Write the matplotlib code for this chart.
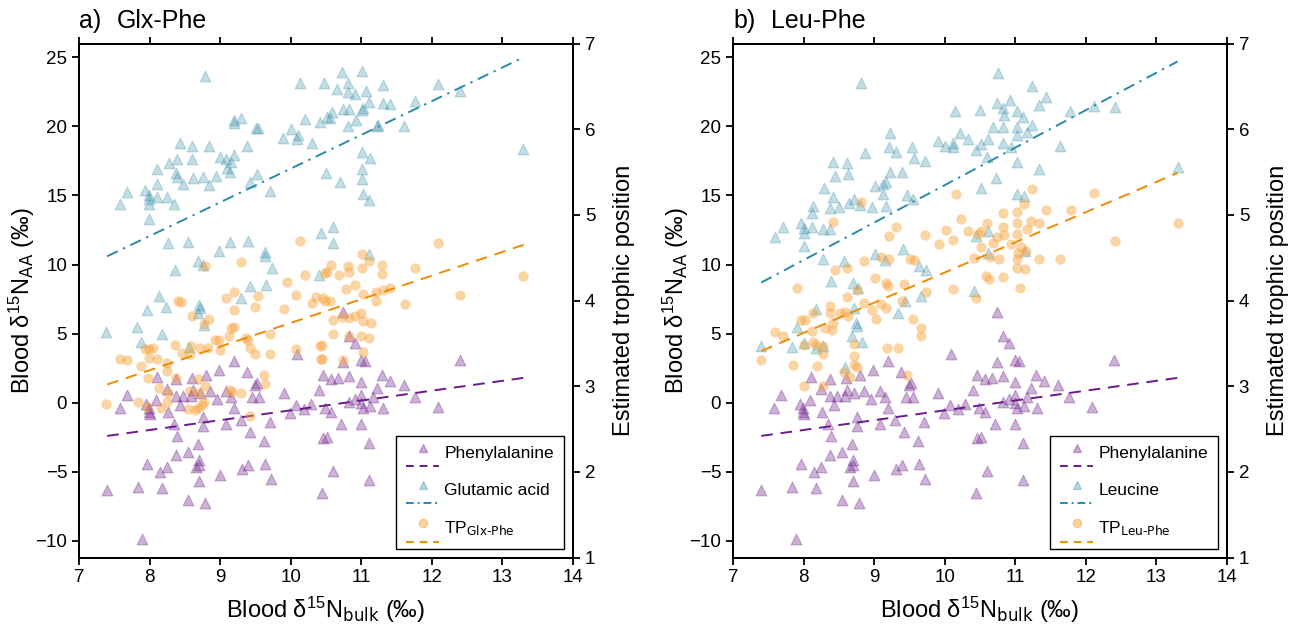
import numpy as np
import matplotlib
matplotlib.use("Agg")
import matplotlib.pyplot as plt
from matplotlib.legend_handler import HandlerBase
from matplotlib.lines import Line2D

plt.rcParams['font.family'] = ['Liberation Sans', 'DejaVu Sans']
plt.rcParams['mathtext.default'] = 'regular'
plt.rcParams['axes.linewidth'] = 1.4

# ---------------- data ----------------
phe_x = [9.20, 8.99, 9.38, 10.09, 8.11, 8.38, 8.60, 8.80, 7.68, 7.58,
         8.25, 7.95, 8.09, 7.99, 8.26, 8.37, 8.48, 8.61, 8.71, 8.86,
         8.43, 8.59, 8.95, 9.09, 9.16, 9.50, 9.52, 9.45, 9.55, 9.90,
         9.20, 8.76, 8.35, 8.75, 9.09, 9.30, 9.70, 9.43, 8.39, 9.62,
         8.69, 8.55, 8.37, 8.70, 8.70, 8.66, 7.97, 8.24, 8.15, 9.00,
         9.31, 9.40, 9.64, 9.72, 8.70, 7.39, 7.83, 8.17, 8.55, 8.79,
         7.89, 10.08, 9.99, 10.19, 10.29, 10.40, 7.99, 10.74, 10.82, 10.91,
         10.74, 11.00, 11.05, 12.40, 10.46, 10.57, 10.67, 10.82, 11.00, 11.30,
         11.41, 11.61, 11.22, 11.00, 11.17, 11.76, 10.91, 10.82, 11.00, 11.12,
         11.31, 11.03, 12.09, 10.57, 10.49, 10.71, 11.00, 10.46, 10.52, 11.11,
         10.60, 11.11, 10.44, 8.00]
phe_y = [3.03, 2.38, 2.23, 3.53, 1.89, 1.73, 1.82, 1.99, 0.54, -0.40,
         0.97, -0.08, 0.21, -0.64, -0.64, 0.50, 0.50, 0.93, 0.69, 0.86,
         -0.16, 0.50, 0.28, 0.86, 0.45, 1.29, 1.46, 0.45, 0.45, 0.69,
         -0.40, -1.00, -1.53, -1.65, -1.55, -1.24, -1.36, -2.13, -2.40, -2.76,
         -2.98, -3.53, -3.77, -4.13, -4.54, -4.66, -4.45, -4.66, -5.03, -5.22,
         -4.81, -4.50, -4.45, -5.53, -5.65, -6.35, -6.11, -6.18, -7.03, -7.22,
         -9.85, -0.16, -0.71, -0.47, -0.11, 0.93, -0.40, 6.55, 4.84, 4.36,
         2.98, 3.10, 3.05, 3.10, 2.02, 1.73, 1.78, 1.90, 1.49, 2.02,
         1.61, 1.25, 1.05, 0.57, 0.45, 0.38, 0.28, 0.09, -0.03, -0.23,
         -0.40, -0.40, -0.28, -0.64, -0.40, -1.53, -1.53, -2.57, -2.45, -2.93,
         -4.93, -5.58, -6.50, -0.85]

glu_x = [8.79, 10.13, 10.47, 9.20, 9.30, 9.19, 9.51, 9.54, 10.20, 10.41,
         10.51, 10.00, 9.89, 10.10, 10.09, 10.30, 8.43, 8.60, 8.84, 9.38,
         8.11, 8.27, 8.39, 8.60, 9.00, 9.09, 9.20, 9.16, 9.10, 9.14,
         8.37, 8.39, 8.10, 8.47, 8.62, 8.76, 8.94, 8.84, 9.52, 9.43,
         9.70, 7.68, 7.93, 7.99, 7.99, 7.99, 8.10, 8.25, 8.35, 7.58,
         7.99, 8.26, 8.55, 8.99, 9.14, 9.40, 10.43, 9.63, 9.63, 8.69,
         8.76, 8.36, 9.73, 10.40, 9.43, 9.65, 8.14, 9.30, 7.97, 8.23,
         8.70, 8.72, 8.69, 8.77, 7.38, 7.82, 8.17, 7.88, 8.56, 10.72,
         11.01, 10.66, 10.81, 10.81, 10.91, 11.07, 11.31, 12.09, 12.40, 11.11,
         11.31, 11.41, 11.76, 10.74, 10.82, 11.01, 11.02, 10.58, 10.56, 10.93,
         10.81, 11.22, 11.23, 11.61, 13.29, 11.01, 11.13, 10.50, 10.70, 11.01,
         11.01, 11.03, 11.11, 10.60, 10.60, 11.11]
glu_y = [23.65, 23.11, 23.11, 20.46, 20.63, 20.22, 19.86, 19.86, 20.51, 20.29,
         20.70, 19.79, 19.13, 19.38, 19.09, 18.77, 18.77, 18.58, 18.60, 18.58,
         16.89, 17.33, 17.62, 17.64, 17.76, 17.62, 17.93, 17.45, 17.01, 16.67,
         16.60, 16.36, 15.83, 15.83, 16.29, 16.36, 16.41, 15.76, 16.55, 15.99,
         15.35, 15.28, 15.40, 15.03, 14.72, 14.36, 14.91, 14.91, 14.38, 14.38,
         13.27, 11.54, 11.66, 11.01, 11.66, 11.73, 12.26, 10.93, 10.62, 10.28,
         9.97, 9.61, 9.73, 9.25, 8.45, 8.52, 7.73, 7.56, 6.72, 6.96,
         7.08, 6.85, 6.48, 5.63, 5.15, 5.51, 4.98, 4.43, 4.07, 23.96,
         24.00, 22.68, 23.11, 22.51, 22.32, 22.58, 22.99, 23.07, 22.58, 21.74,
         21.67, 21.60, 21.84, 21.23, 21.23, 21.19, 21.31, 21.06, 20.58, 20.46,
         20.03, 20.03, 20.10, 20.03, 18.34, 18.12, 17.69, 16.65, 16.00, 16.92,
         16.17, 15.11, 14.67, 12.74, 11.58, 10.74]

tp_glx_x = [10.13, 9.29, 8.78, 10.20, 10.48, 9.95, 9.20, 9.08, 10.07, 10.36,
            8.40, 9.54, 10.49, 10.30, 9.50, 9.20, 9.90, 8.44, 8.60, 8.84,
            8.77, 9.16, 9.20, 9.70, 9.13, 9.36, 9.40, 9.42, 9.50, 9.71,
            8.93, 8.98, 9.00, 8.83, 8.59, 8.71, 8.46, 8.57, 8.36, 7.93,
            7.99, 8.05, 7.99, 8.10, 7.58, 7.68, 7.88, 8.25, 8.24, 7.98,
            8.37, 8.14, 8.26, 8.79, 8.69, 8.57, 8.70, 9.14, 9.17, 9.30,
            9.62, 9.64, 7.83, 7.38, 8.25, 8.16, 8.77, 8.74, 8.55, 8.64,
            8.69, 7.96, 9.42, 10.08, 10.41, 10.43, 10.91, 10.79, 11.03, 11.21,
            11.31, 11.41, 11.21, 11.62, 12.40, 10.46, 10.56, 10.60, 10.72, 10.82,
            10.91, 11.00, 11.03, 11.14, 10.60, 10.82, 11.00, 11.11, 11.03, 10.44,
            10.44, 10.74, 12.09, 11.01, 11.11, 11.30, 11.30, 11.76, 10.57, 10.81,
            11.01, 10.51, 10.68, 10.82, 13.29]
tp_glx = [4.70, 4.45, 4.40, 4.30, 4.32, 4.22, 4.10, 4.03, 4.06, 4.04,
          3.99, 4.05, 3.99, 3.97, 3.92, 3.89, 3.90, 3.98, 3.82, 3.78,
          3.73, 3.68, 3.69, 3.61, 3.58, 3.56, 3.54, 3.45, 3.37, 3.38,
          3.54, 3.54, 3.42, 3.44, 3.47, 3.44, 3.39, 3.38, 3.48, 3.43,
          3.43, 3.44, 3.33, 3.32, 3.32, 3.30, 3.24, 3.18, 3.27, 3.10,
          3.10, 2.98, 2.92, 3.00, 3.08, 2.94, 2.92, 2.96, 2.93, 2.92,
          3.13, 3.03, 2.82, 2.79, 2.82, 2.74, 2.81, 2.78, 2.73, 2.72,
          2.75, 2.76, 2.65, 3.43, 3.47, 3.32, 4.18, 4.14, 4.08, 4.10,
          4.12, 4.15, 3.99, 3.96, 4.06, 4.03, 3.99, 3.77, 3.81, 3.80,
          3.82, 3.85, 3.76, 3.74, 3.61, 3.58, 3.58, 3.56, 3.40, 3.48,
          3.32, 3.31, 4.67, 4.54, 4.46, 4.42, 4.31, 4.38, 4.41, 4.40,
          4.38, 4.33, 4.30, 4.33, 4.29]

leu_x = [8.82, 10.15, 9.22, 9.21, 9.31, 9.53, 9.57, 9.72, 9.91, 10.01,
         10.12, 10.12, 10.21, 10.33, 8.87, 8.42, 8.62, 8.45, 8.63, 9.22,
         9.40, 8.29, 9.01, 9.12, 9.17, 9.12, 8.42, 8.71, 8.64, 8.37,
         8.50, 8.80, 8.97, 9.17, 9.46, 9.55, 8.13, 8.12, 7.71, 7.96,
         8.01, 8.01, 8.12, 8.27, 8.38, 7.60, 8.01, 8.28, 8.57, 9.01,
         9.16, 9.41, 9.64, 9.74, 8.39, 8.70, 8.77, 10.42, 9.66, 9.44,
         8.17, 8.72, 9.34, 7.91, 8.74, 8.76, 8.68, 8.83, 7.40, 7.84,
         8.00, 8.18, 8.27, 8.58, 10.76, 11.23, 11.43, 10.93, 10.74, 10.50,
         10.83, 10.84, 11.03, 11.11, 11.34, 11.78, 12.11, 12.41, 10.69, 10.83,
         11.02, 11.23, 11.16, 11.03, 10.61, 10.52, 10.83, 10.94, 10.45, 11.63,
         10.60, 11.02, 11.33, 13.30, 10.73, 10.52, 11.02, 11.13, 10.62, 10.45,
         10.62, 11.14]
leu_y = [23.16, 21.14, 19.54, 18.53, 18.17, 18.48, 17.69, 17.52, 18.97, 18.58,
         18.77, 18.48, 19.50, 19.06, 18.05, 17.40, 17.33, 16.41, 16.55, 16.72,
         16.67, 15.52, 15.69, 15.83, 16.00, 15.11, 14.87, 14.72, 14.43, 14.07,
         14.14, 14.31, 14.14, 14.26, 15.03, 14.72, 14.24, 13.76, 12.74, 13.03,
         12.62, 12.26, 12.70, 12.55, 12.55, 11.97, 11.37, 10.38, 10.28, 10.74,
         10.33, 11.10, 9.90, 9.61, 8.84, 8.64, 8.28, 8.11, 7.73, 7.39,
         6.77, 6.84, 6.48, 5.51, 5.75, 5.52, 4.84, 4.38, 4.11, 4.07,
         4.31, 3.95, 4.14, 2.62, 23.89, 22.92, 22.15, 21.91, 21.67, 21.19,
         21.31, 20.82, 21.14, 20.65, 21.55, 21.10, 21.50, 21.43, 19.93, 19.93,
         19.93, 20.10, 19.57, 19.38, 19.06, 18.73, 18.82, 18.48, 18.29, 18.58,
         17.76, 17.45, 16.89, 17.04, 16.29, 15.57, 15.11, 14.96, 12.43, 12.07,
         10.86, 11.00]

tp_leu_x = [8.82, 8.42, 10.16, 10.23, 9.31, 9.21, 9.72, 10.02, 9.92, 10.12,
            10.33, 10.42, 8.86, 9.10, 9.21, 9.51, 9.57, 8.61, 8.45, 7.91,
            9.01, 9.17, 9.20, 9.42, 9.74, 10.12, 10.44, 8.62, 8.76, 8.85,
            9.39, 9.10, 9.17, 8.97, 9.02, 8.37, 8.38, 8.51, 8.63, 8.58,
            8.13, 8.42, 8.30, 8.40, 9.55, 9.67, 9.67, 7.97, 8.02, 7.60,
            7.71, 8.12, 8.13, 8.18, 8.28, 8.28, 8.00, 8.72, 8.72, 8.71,
            8.76, 9.18, 9.34, 7.40, 7.85, 8.19, 8.57, 8.66, 9.46, 8.00,
            8.27, 11.23, 12.12, 11.13, 10.83, 11.03, 11.43, 11.79, 10.60, 10.83,
            11.03, 11.22, 11.33, 11.16, 10.51, 10.47, 10.74, 10.84, 11.03, 10.69,
            10.52, 10.94, 11.08, 11.15, 11.04, 10.64, 10.77, 11.03, 11.34, 11.63,
            11.03, 11.14, 10.59, 10.63, 10.83, 11.07, 12.41, 13.30]
tp_leu = [5.15, 4.92, 5.24, 4.95, 4.86, 4.75, 4.76, 4.82, 4.66, 4.71,
          4.81, 4.50, 4.46, 4.51, 4.48, 4.48, 4.47, 4.38, 4.36, 4.15,
          4.26, 4.20, 4.17, 4.19, 4.10, 4.13, 4.03, 4.04, 4.12, 3.97,
          3.99, 3.96, 3.91, 3.89, 3.78, 3.93, 3.85, 3.85, 3.82, 3.86,
          3.85, 3.74, 3.68, 3.66, 3.78, 3.68, 3.59, 3.77, 3.77, 3.63,
          3.59, 3.64, 3.52, 3.48, 3.47, 3.38, 3.48, 3.49, 3.35, 3.25,
          3.22, 3.44, 3.45, 3.30, 3.25, 3.24, 3.16, 3.11, 3.13, 3.00,
          3.00, 5.30, 5.25, 5.13, 5.02, 5.03, 5.06, 5.06, 4.91, 4.86,
          4.91, 4.93, 4.90, 4.83, 4.81, 4.78, 4.74, 4.76, 4.78, 4.67,
          4.62, 4.66, 4.62, 4.58, 4.56, 4.51, 4.49, 4.49, 4.49, 4.49,
          4.38, 4.37, 4.29, 4.25, 4.27, 4.15, 4.69, 4.90]

# regression lines (end points)
fit_x = [7.4, 13.3]
phe_fit = [-2.4, 1.8]
glu_fit = [10.6, 25.0]
tp_glx_fit = [3.02, 4.65]
leu_fit = [8.7, 24.7]
tp_leu_fit = [3.41, 5.49]

# ---------------- style ----------------
PURPLE = '#7b3294'
PURPLE_LINE = '#6a1b8a'
TEAL = '#3a8fa8'
TEAL_LINE = '#2a8aa5'
ORANGE = '#f7a035'
ORANGE_LINE = '#f08a00'


class MarkerOverLine(HandlerBase):
    def __init__(self, marker, mcolor, malpha, msize, lcolor, ls):
        super().__init__()
        self.marker, self.mcolor, self.malpha = marker, mcolor, malpha
        self.msize, self.lcolor, self.ls = msize, lcolor, ls

    def create_artists(self, legend, orig_handle, xdescent, ydescent,
                       width, height, fontsize, trans):
        yc = (height - ydescent) / 2
        m = Line2D([width / 2 - xdescent], [yc + 0.25 * fontsize],
                   marker=self.marker, linestyle='none',
                   markerfacecolor=self.mcolor, markeredgecolor=self.mcolor,
                   alpha=self.malpha, markersize=self.msize)
        l = Line2D([-xdescent, width - xdescent], [yc - 0.8 * fontsize] * 2,
                   color=self.lcolor, linestyle=self.ls, linewidth=1.4)
        m.set_transform(trans)
        l.set_transform(trans)
        return [m, l]


fig = plt.figure(figsize=(13.02, 6.31), dpi=100)
W, H = 1302, 631
axes_px = [(79, 494), (733, 494)]
top_px, bot_px = 43.5, 557.5

panels = [
    ('a)', 'Glx-Phe', glu_x, glu_y, glu_fit, 'Glutamic acid',
     tp_glx_x, tp_glx, tp_glx_fit, r'TP$_{\text{Glx-Phe}}$'),
    ('b)', 'Leu-Phe', leu_x, leu_y, leu_fit, 'Leucine',
     tp_leu_x, tp_leu, tp_leu_fit, r'TP$_{\text{Leu-Phe}}$'),
]

for (left, width), (tag, title, ax_x, ax_y, ax_fit, ax_name,
                    tpx, tpy, tp_fit, tp_name) in zip(axes_px, panels):
    ax = fig.add_axes([left / W, 1 - bot_px / H, width / W, (bot_px - top_px) / H])
    ax2 = ax.twinx()

    s_phe = ax.scatter(phe_x, phe_y, marker='^', s=60, color=PURPLE, alpha=0.38,
                       linewidths=0.8, zorder=2)
    ax.plot(fit_x, phe_fit, color=PURPLE_LINE, linestyle=(0, (6, 4)), linewidth=1.4, zorder=4)
    s_aa = ax.scatter(ax_x, ax_y, marker='^', s=60, color=TEAL, alpha=0.3,
                      linewidths=0.8, zorder=2)
    ax.plot(fit_x, ax_fit, color=TEAL_LINE, linestyle=(0, (6, 3, 1.2, 3)), linewidth=1.4, zorder=4)

    s_tp = ax2.scatter(tpx, tpy, marker='o', s=55, color=ORANGE, alpha=0.45,
                       linewidths=0, zorder=2)
    ax2.plot(fit_x, tp_fit, color=ORANGE_LINE, linestyle=(0, (6, 4)), linewidth=1.4, zorder=4)

    ax.set_xlim(7, 14)
    ax.set_ylim(-11.2, 26)
    ax2.set_ylim(1, 7)
    ax.set_xticks(range(7, 15))
    ax.set_yticks(range(-10, 26, 5))
    ax2.set_yticks(range(1, 8))
    ax.set_yticklabels([f'{v}'.replace('-', '\u2212') for v in range(-10, 26, 5)])

    ax.tick_params(axis='both', direction='out', length=5, width=1.3, labelsize=13.5, top=True)
    ax2.tick_params(axis='y', direction='out', length=5, width=1.3, labelsize=13.5)

    ax.set_xlabel(r'Blood δ$^{15}$N$_{\text{bulk}}$ (‰)', fontsize=17, labelpad=6)
    ax.set_ylabel(r'Blood δ$^{15}$N$_{\text{AA}}$ (‰)', fontsize=17)
    ax.yaxis.set_label_coords(-0.085, 0.5)
    ax2.set_ylabel('Estimated trophic position', fontsize=17)
    ax2.yaxis.set_label_coords(1.08, 0.5)

    ax.text(0.0, 1.02, tag, transform=ax.transAxes, fontsize=18, ha='left', va='bottom')
    ax.text(0.077, 1.02, title, transform=ax.transAxes, fontsize=18, ha='left', va='bottom')

    handler_map = {
        s_phe: MarkerOverLine('^', PURPLE, 0.4, 6, PURPLE_LINE, (0, (4, 3))),
        s_aa: MarkerOverLine('^', TEAL, 0.35, 6, TEAL_LINE, (0, (4, 2, 1, 2))),
        s_tp: MarkerOverLine('o', ORANGE, 0.45, 6, ORANGE_LINE, (0, (4, 3))),
    }
    leg = ax2.legend([s_phe, s_aa, s_tp], ['Phenylalanine', ax_name, tp_name],
                     handler_map=handler_map, loc='lower right', fontsize=12.5,
                     frameon=True, fancybox=False, edgecolor='black',
                     framealpha=1, borderpad=0.6, labelspacing=1.25,
                     handlelength=1.9, handletextpad=0.3, borderaxespad=0.5)
    leg.get_frame().set_linewidth(1.0)

fig.savefig('out.png', dpi=100)
